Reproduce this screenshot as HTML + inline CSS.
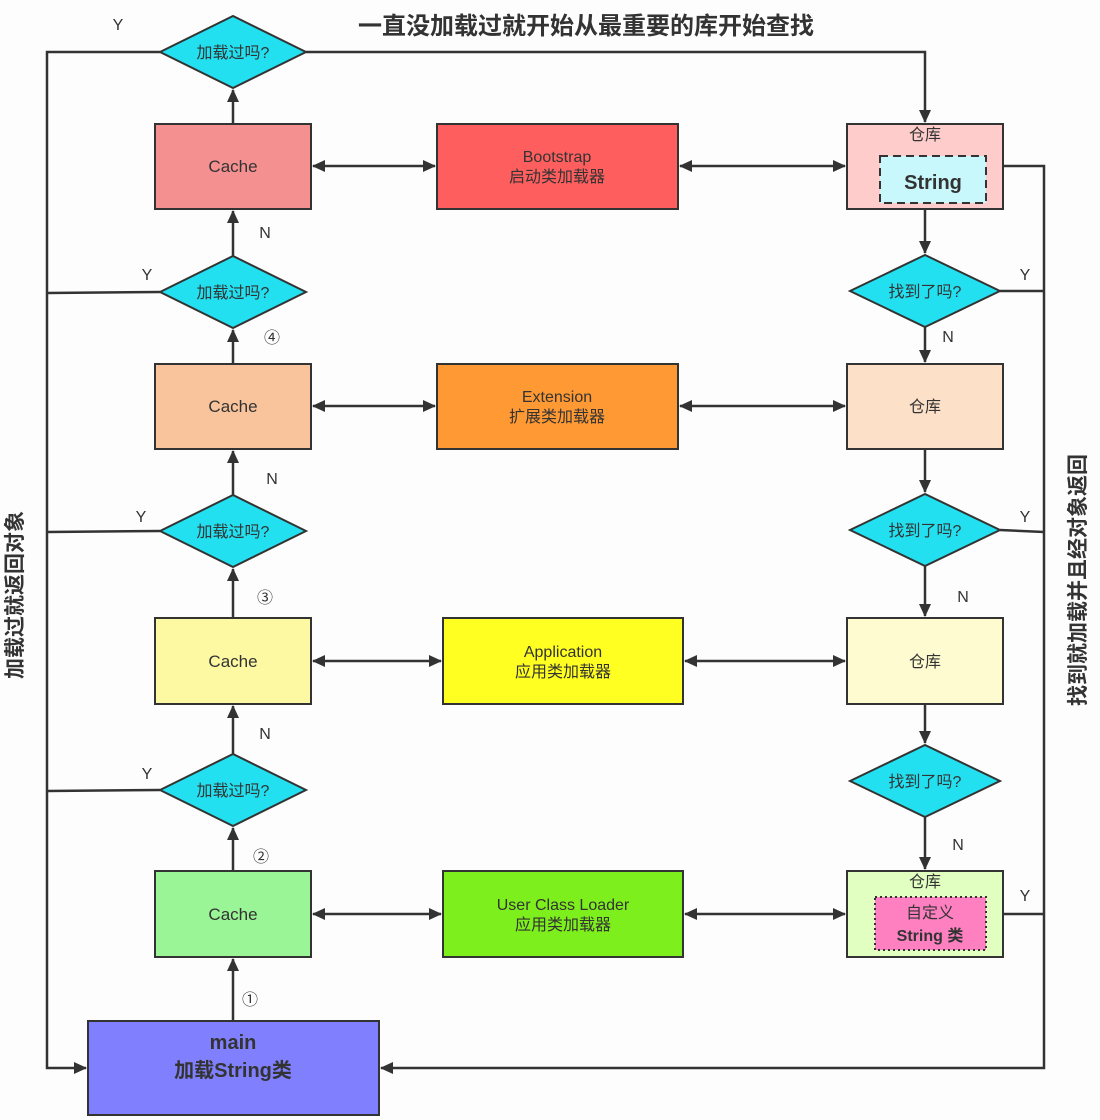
<!DOCTYPE html>
<html><head><meta charset="utf-8"><style>
body{margin:0;background:#fff;}
svg{display:block;font-family:"Liberation Sans","Noto Sans CJK SC",sans-serif;}
</style></head><body>
<svg width="1100" height="1120" viewBox="0 0 1100 1120" xmlns="http://www.w3.org/2000/svg">
<defs>
<marker id="a" markerWidth="13" markerHeight="12" refX="12" refY="6" orient="auto" markerUnits="userSpaceOnUse"><path d="M0,0 L13,6 L0,12 z" fill="#333"/></marker>
<marker id="s" markerWidth="13" markerHeight="12" refX="1" refY="6" orient="auto" markerUnits="userSpaceOnUse"><path d="M13,0 L0,6 L13,12 z" fill="#333"/></marker>
</defs>
<rect width="1100" height="1120" fill="#fdfdfd"/>
<text x="586" y="34" text-anchor="middle" font-size="24" font-weight="bold" fill="#333">一直没加载过就开始从最重要的库开始查找</text>
<g stroke="#333" stroke-width="2.5" fill="none">
<polyline points="160,52 47,52 47,1068 86,1068" marker-end="url(#a)"/>
<line x1="160" y1="292" x2="47" y2="293"/>
<line x1="160" y1="531" x2="47" y2="532"/>
<line x1="160" y1="790" x2="47" y2="791"/>
<polyline points="1003,166 1044,166 1044,1068 381,1068" marker-end="url(#a)"/>
<line x1="1000" y1="291" x2="1044" y2="291"/>
<line x1="1000" y1="530" x2="1044" y2="532"/>
<line x1="1003" y1="914" x2="1044" y2="914"/>
<polyline points="306,52 925,52 925,122" marker-end="url(#a)"/>
<line x1="233" y1="1021" x2="233" y2="959" marker-end="url(#a)"/>
<line x1="233" y1="871" x2="233" y2="828" marker-end="url(#a)"/>
<line x1="233" y1="754" x2="233" y2="706" marker-end="url(#a)"/>
<line x1="233" y1="618" x2="233" y2="569" marker-end="url(#a)"/>
<line x1="233" y1="495" x2="233" y2="451" marker-end="url(#a)"/>
<line x1="233" y1="364" x2="233" y2="330" marker-end="url(#a)"/>
<line x1="233" y1="256" x2="233" y2="211" marker-end="url(#a)"/>
<line x1="233" y1="124" x2="233" y2="90" marker-end="url(#a)"/>
<line x1="925" y1="209" x2="925" y2="253" marker-end="url(#a)"/>
<line x1="925" y1="327" x2="925" y2="362" marker-end="url(#a)"/>
<line x1="925" y1="449" x2="925" y2="492" marker-end="url(#a)"/>
<line x1="925" y1="566" x2="925" y2="616" marker-end="url(#a)"/>
<line x1="925" y1="704" x2="925" y2="743" marker-end="url(#a)"/>
<line x1="925" y1="817" x2="925" y2="869" marker-end="url(#a)"/>
<line x1="313" y1="166" x2="435" y2="166" marker-start="url(#s)" marker-end="url(#a)"/>
<line x1="680" y1="166" x2="845" y2="166" marker-start="url(#s)" marker-end="url(#a)"/>
<line x1="313" y1="406" x2="435" y2="406" marker-start="url(#s)" marker-end="url(#a)"/>
<line x1="680" y1="406" x2="845" y2="406" marker-start="url(#s)" marker-end="url(#a)"/>
<line x1="313" y1="661" x2="441" y2="661" marker-start="url(#s)" marker-end="url(#a)"/>
<line x1="685" y1="661" x2="845" y2="661" marker-start="url(#s)" marker-end="url(#a)"/>
<line x1="313" y1="914" x2="441" y2="914" marker-start="url(#s)" marker-end="url(#a)"/>
<line x1="685" y1="914" x2="845" y2="914" marker-start="url(#s)" marker-end="url(#a)"/>
</g>
<g stroke="#333" stroke-width="2">
<polygon points="160,52 233,16 306,52 233,88" fill="#22e0f0"/>
<polygon points="160,292 233,256 306,292 233,328" fill="#22e0f0"/>
<polygon points="160,531 233,495 306,531 233,567" fill="#22e0f0"/>
<polygon points="160,790 233,754 306,790 233,826" fill="#22e0f0"/>
<polygon points="850,291 925,255 1000,291 925,327" fill="#22e0f0"/>
<polygon points="850,530 925,494 1000,530 925,566" fill="#22e0f0"/>
<polygon points="850,781 925,745 1000,781 925,817" fill="#22e0f0"/>
<rect x="155" y="124" width="156" height="85" fill="#f59090"/>
<rect x="155" y="364" width="156" height="85" fill="#f9c49b"/>
<rect x="155" y="618" width="156" height="86" fill="#fcf9a2"/>
<rect x="155" y="871" width="156" height="86" fill="#99f595"/>
<rect x="437" y="124" width="241" height="85" fill="#ff5e5e"/>
<rect x="437" y="364" width="241" height="85" fill="#ff9933"/>
<rect x="443" y="618" width="240" height="86" fill="#ffff22"/>
<rect x="443" y="871" width="240" height="86" fill="#7def1c"/>
<rect x="847" y="124" width="156" height="85" fill="#ffcccc"/>
<rect x="847" y="364" width="156" height="85" fill="#fde0c8"/>
<rect x="847" y="618" width="156" height="86" fill="#fffbd0"/>
<rect x="847" y="871" width="156" height="86" fill="#e2ffc2"/>
<rect x="88" y="1021" width="291" height="94" fill="#8080ff"/>
<rect x="880" y="156" width="106" height="47" fill="#c8f8fc" stroke-dasharray="8,5"/>
<rect x="875" y="897" width="111" height="53" fill="#ff80c0" stroke-dasharray="2,3"/>
</g>
<g font-size="16" fill="#333" text-anchor="middle">
<text x="233" y="58">加载过吗?</text>
<text x="233" y="298">加载过吗?</text>
<text x="233" y="537">加载过吗?</text>
<text x="233" y="796">加载过吗?</text>
<text x="925" y="297">找到了吗?</text>
<text x="925" y="536">找到了吗?</text>
<text x="925" y="787">找到了吗?</text>
<text x="233" y="172" font-size="17">Cache</text>
<text x="233" y="412" font-size="17">Cache</text>
<text x="233" y="667" font-size="17">Cache</text>
<text x="233" y="920" font-size="17">Cache</text>
<text x="557" y="162">Bootstrap</text><text x="557" y="182">启动类加载器</text>
<text x="557" y="402">Extension</text><text x="557" y="422">扩展类加载器</text>
<text x="563" y="657">Application</text><text x="563" y="677">应用类加载器</text>
<text x="563" y="910">User Class Loader</text><text x="563" y="930">应用类加载器</text>
<text x="925" y="140">仓库</text>
<text x="933" y="189" font-size="20" font-weight="bold">String</text>
<text x="925" y="412">仓库</text>
<text x="925" y="667">仓库</text>
<text x="925" y="887">仓库</text>
<text x="930" y="918" font-size="16">自定义</text>
<text x="930" y="941" font-size="16" font-weight="bold">String 类</text>
<text x="233" y="1049" font-size="20" font-weight="bold">main</text>
<text x="233" y="1077" font-size="20" font-weight="bold">加载String类</text>
<text x="118" y="30">Y</text><text x="147" y="280">Y</text><text x="141" y="522">Y</text><text x="147" y="779">Y</text>
<text x="265" y="238">N</text><text x="272" y="484">N</text><text x="265" y="739">N</text>
<text x="272" y="343">④</text><text x="265" y="603">③</text><text x="261" y="862">②</text><text x="250" y="1005">①</text>
<text x="1025" y="280">Y</text><text x="1025" y="522">Y</text><text x="1025" y="901">Y</text>
<text x="948" y="342">N</text><text x="963" y="602">N</text><text x="958" y="850">N</text>
</g>
<text transform="translate(22,595) rotate(-90)" text-anchor="middle" font-size="21" font-weight="bold" fill="#333">加载过就返回对象</text>
<text transform="translate(1085,580) rotate(-90)" text-anchor="middle" font-size="21" font-weight="bold" fill="#333">找到就加载并且经对象返回</text>
</svg>
</body></html>
